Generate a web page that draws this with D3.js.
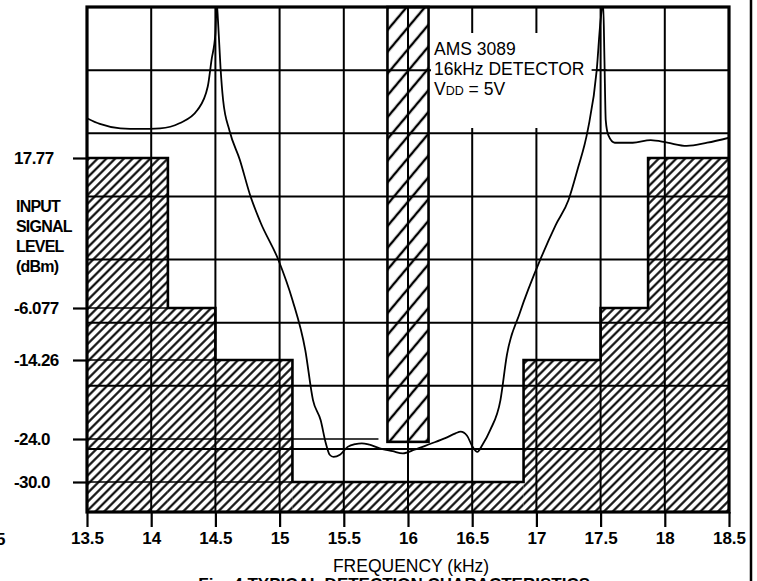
<!DOCTYPE html>
<html>
<head>
<meta charset="utf-8">
<script src="https://cdn.jsdelivr.net/npm/d3@7"></script>
<style>
  body { margin: 0; background: #fff; }
  svg { display: block; }
  text { font-family: "Liberation Sans", Arial, Helvetica, sans-serif; fill: #000; }
</style>
</head>
<body>
<svg id="chart" width="757" height="581"></svg>
<script>
// tick values
var freqTicks = [13.5, 14, 14.5, 15, 15.5, 16, 16.5, 17, 17.5, 18, 18.5];
var levelTicks = [17.77, -6.077, -14.26, -24.0, -30.0];
var levelLabels = ["17.77", "-6.077", "-14.26", "-24.0", "-30.0"];
// where each level line stops inside the plot (kHz)
var levelEnds = [14.13, 14.5, 15.1, 15.77, 16.9];

// rejection mask (hatched blocks)
var maskFrom = [13.5, 14.13, 14.5, 15.1, 16.9, 17.5, 17.87];
var maskTo   = [14.13, 14.5, 15.1, 16.9, 17.5, 17.87, 18.5];
var maskTop  = [17.77, -6.077, -14.26, -30.0, -14.26, -6.077, 17.77];

// detect band (hatched bar in the middle)
var passBand = [15.84, 16.16];
var passFloor = -24.4;

// measured detection threshold curve
var curveFreq = [13.5, 13.6, 13.76, 13.91, 14.07, 14.22, 14.36, 14.44, 14.47, 14.5,
  14.51, 14.52, 14.54, 14.56, 14.61, 14.69, 14.77, 14.85, 14.99, 15.1,
  15.2, 15.26, 15.32, 15.36, 15.39, 15.42, 15.47, 15.53, 15.59, 15.64,
  15.7, 15.78, 15.88, 15.96, 16.05, 16.17, 16.29, 16.37, 16.41, 16.46,
  16.5, 16.54, 16.58, 16.64, 16.72, 16.77, 16.87, 17.03, 17.15, 17.25,
  17.32, 17.4, 17.47, 17.5, 17.52, 17.53, 17.54, 17.56, 17.61, 17.75,
  17.89, 18.02, 18.17, 18.33, 18.5];
var curveLevel = [24.1, 23.2, 22.5, 22.4, 22.5, 23.3, 25.4, 29.1, 33.4, 37.6,
  42.5, 39.7, 32.1, 27.0, 22.1, 17.5, 11.9, 7.6, 1.6, -4.8,
  -12.7, -19.2, -21.7, -24.6, -26.2, -26.5, -26.2, -25.1, -24.7, -24.6,
  -24.8, -25.3, -25.7, -26.0, -25.5, -24.7, -23.9, -23.3, -23.1, -23.6,
  -25.0, -25.8, -24.8, -22.9, -19.2, -13.5, -6.9, 1.6, 7.1, 11.1,
  15.9, 22.2, 31.8, 39.7, 42.5, 33.4, 23.8, 21.4, 20.2, 20.2,
  20.6, 20.2, 19.7, 20.2, 21.0];

var margin = {top: 7, left: 87},
    width = 642,
    height = 505;

var svg = d3.select("#chart");
svg.append("rect").attr("width", 757).attr("height", 581).attr("fill", "#fff");

var defs = svg.append("defs");
function hatch(id, gap, angle, sw) {
  var p = defs.append("pattern")
    .attr("id", id)
    .attr("patternUnits", "userSpaceOnUse")
    .attr("width", gap).attr("height", gap)
    .attr("patternTransform", "rotate(" + angle + ")");
  p.append("line")
    .attr("x1", gap / 2).attr("y1", -1).attr("x2", gap / 2).attr("y2", gap + 1)
    .attr("stroke", "#000").attr("stroke-width", sw);
}
hatch("maskHatch", 6.2, 45, 2.1);
hatch("barHatch", 14, 40, 2.4);

defs.append("clipPath").attr("id", "plotClip")
  .append("rect").attr("width", width).attr("height", height);

var x = d3.scaleLinear().domain([13.5, 18.5]).range([0, width]);
// the printed level axis is not evenly spaced, so use a piecewise scale
var y = d3.scaleLinear()
  .domain([41.8, 17.77, -6.077, -14.26, -24.0, -30.0, -34.2])
  .range([0, 151, 301, 353, 432, 475, height]);

var g = svg.append("g").attr("transform", "translate(" + margin.left + "," + margin.top + ")");

var mask = maskFrom.map(function(f, i) { return {f0: f, f1: maskTo[i], top: maskTop[i]}; });

// hatched fills
g.selectAll(".mask").data(mask).enter().append("rect")
  .attr("class", "mask")
  .attr("x", d => x(d.f0))
  .attr("width", d => x(d.f1) - x(d.f0))
  .attr("y", d => y(d.top))
  .attr("height", d => height - y(d.top))
  .attr("fill", "url(#maskHatch)");

g.append("rect")
  .attr("x", x(passBand[0]))
  .attr("width", x(passBand[1]) - x(passBand[0]))
  .attr("y", 0)
  .attr("height", y(passFloor))
  .attr("fill", "url(#barHatch)");

// grid
g.selectAll(".vgrid").data(freqTicks.slice(1, -1)).enter().append("line")
  .attr("x1", d => x(d)).attr("x2", d => x(d))
  .attr("y1", 0).attr("y2", height)
  .attr("stroke", "#000").attr("stroke-width", 2);
g.selectAll(".hgrid").data(d3.range(1, 8)).enter().append("line")
  .attr("x1", 0).attr("x2", width)
  .attr("y1", d => d * height / 8).attr("y2", d => d * height / 8)
  .attr("stroke", "#000").attr("stroke-width", 2);

// level lines running in from the axis
g.selectAll(".level").data(levelTicks).enter().append("line")
  .attr("x1", 0).attr("x2", (d, i) => x(levelEnds[i]))
  .attr("y1", d => y(d)).attr("y2", d => y(d))
  .attr("stroke", "#000").attr("stroke-width", 1.7);

// mask outline
var steps = [];
mask.forEach(function(d) { steps.push([d.f0, d.top]); steps.push([d.f1, d.top]); });
g.append("path")
  .attr("d", d3.line().x(d => x(d[0])).y(d => y(d[1]))(steps))
  .attr("fill", "none").attr("stroke", "#000").attr("stroke-width", 2.6);

g.append("rect")
  .attr("x", x(passBand[0]))
  .attr("width", x(passBand[1]) - x(passBand[0]))
  .attr("y", 0)
  .attr("height", y(passFloor))
  .attr("fill", "none").attr("stroke", "#000").attr("stroke-width", 2.6);

// label box
g.append("rect").attr("x", 344).attr("y", 26).attr("width", 166).attr("height", 95).attr("fill", "#fff");
g.append("line").attr("x1", x(17.5) - 9).attr("x2", x(17.5) + 6)
  .attr("y1", 63).attr("y2", 63).attr("stroke", "#000").attr("stroke-width", 1.7);

// curve
var pts = curveFreq.map((f, i) => [f, curveLevel[i]]);
g.append("path")
  .attr("clip-path", "url(#plotClip)")
  .attr("d", d3.line().x(d => x(d[0])).y(d => y(d[1])).curve(d3.curveMonotoneX)(pts))
  .attr("fill", "none").attr("stroke", "#000").attr("stroke-width", 1.8);

// plot frame
g.append("rect").attr("width", width).attr("height", height)
  .attr("fill", "none").attr("stroke", "#000").attr("stroke-width", 3.2);

// axes
var xAxis = g.append("g").attr("transform", "translate(0," + height + ")")
  .call(d3.axisBottom(x).tickValues(freqTicks).tickFormat(d => d).tickSize(15).tickPadding(5));
xAxis.select(".domain").remove();
xAxis.selectAll("line").attr("stroke", "#000").attr("stroke-width", 2.2);
xAxis.selectAll("text").attr("font-size", 17).attr("font-weight", "bold").attr("fill", "#000")
  .attr("font-family", "Liberation Sans, Arial, sans-serif");

var yAxis = g.append("g")
  .call(d3.axisLeft(y).tickValues(levelTicks).tickFormat((d, i) => levelLabels[i]).tickSize(14));
yAxis.select(".domain").remove();
yAxis.selectAll("line").attr("stroke", "#000").attr("stroke-width", 2.2);
yAxis.selectAll("text").attr("x", -73).attr("text-anchor", "start")
  .attr("font-size", 17).attr("font-weight", "bold").attr("fill", "#000")
  .attr("letter-spacing", -0.6)
  .attr("font-family", "Liberation Sans, Arial, sans-serif");

// y title
var yt = svg.append("text").attr("x", 16).attr("y", 212)
  .attr("font-size", 16).attr("font-weight", "bold").attr("letter-spacing", -0.8);
["INPUT", "SIGNAL", "LEVEL", "(dBm)"].forEach(function(s, i) {
  yt.append("tspan").attr("x", 16).attr("dy", i ? 20 : 0).text(s);
});

// x title
svg.append("text").attr("x", 411).attr("y", 572).attr("text-anchor", "middle")
  .attr("font-size", 17.5).text("FREQUENCY (kHz)");

// annotation
var ann = svg.append("text").attr("font-size", 17.5);
ann.append("tspan").attr("x", 434).attr("y", 55).text("AMS 3089");
ann.append("tspan").attr("x", 434).attr("y", 75).text("16kHz DETECTOR");
var v = ann.append("tspan").attr("x", 434).attr("y", 95);
v.text("V");
ann.append("tspan").attr("font-size", 12.5).text("DD");
ann.append("tspan").text(" = 5V");

// caption (cut off at the bottom of the page)
svg.append("text").attr("x", 590).attr("y", 590).attr("text-anchor", "end")
  .attr("font-size", 17).attr("font-weight", "bold")
  .text("Fig. 4 TYPICAL DETECTION CHARACTERISTICS");

// stray page marks
svg.append("text").attr("x", -4).attr("y", 545).attr("font-size", 17).attr("font-weight", "bold").text("5");
svg.append("line").attr("x1", 751).attr("x2", 751).attr("y1", 0).attr("y2", 581)
  .attr("stroke", "#000").attr("stroke-width", 2.5);
</script>
</body>
</html>
